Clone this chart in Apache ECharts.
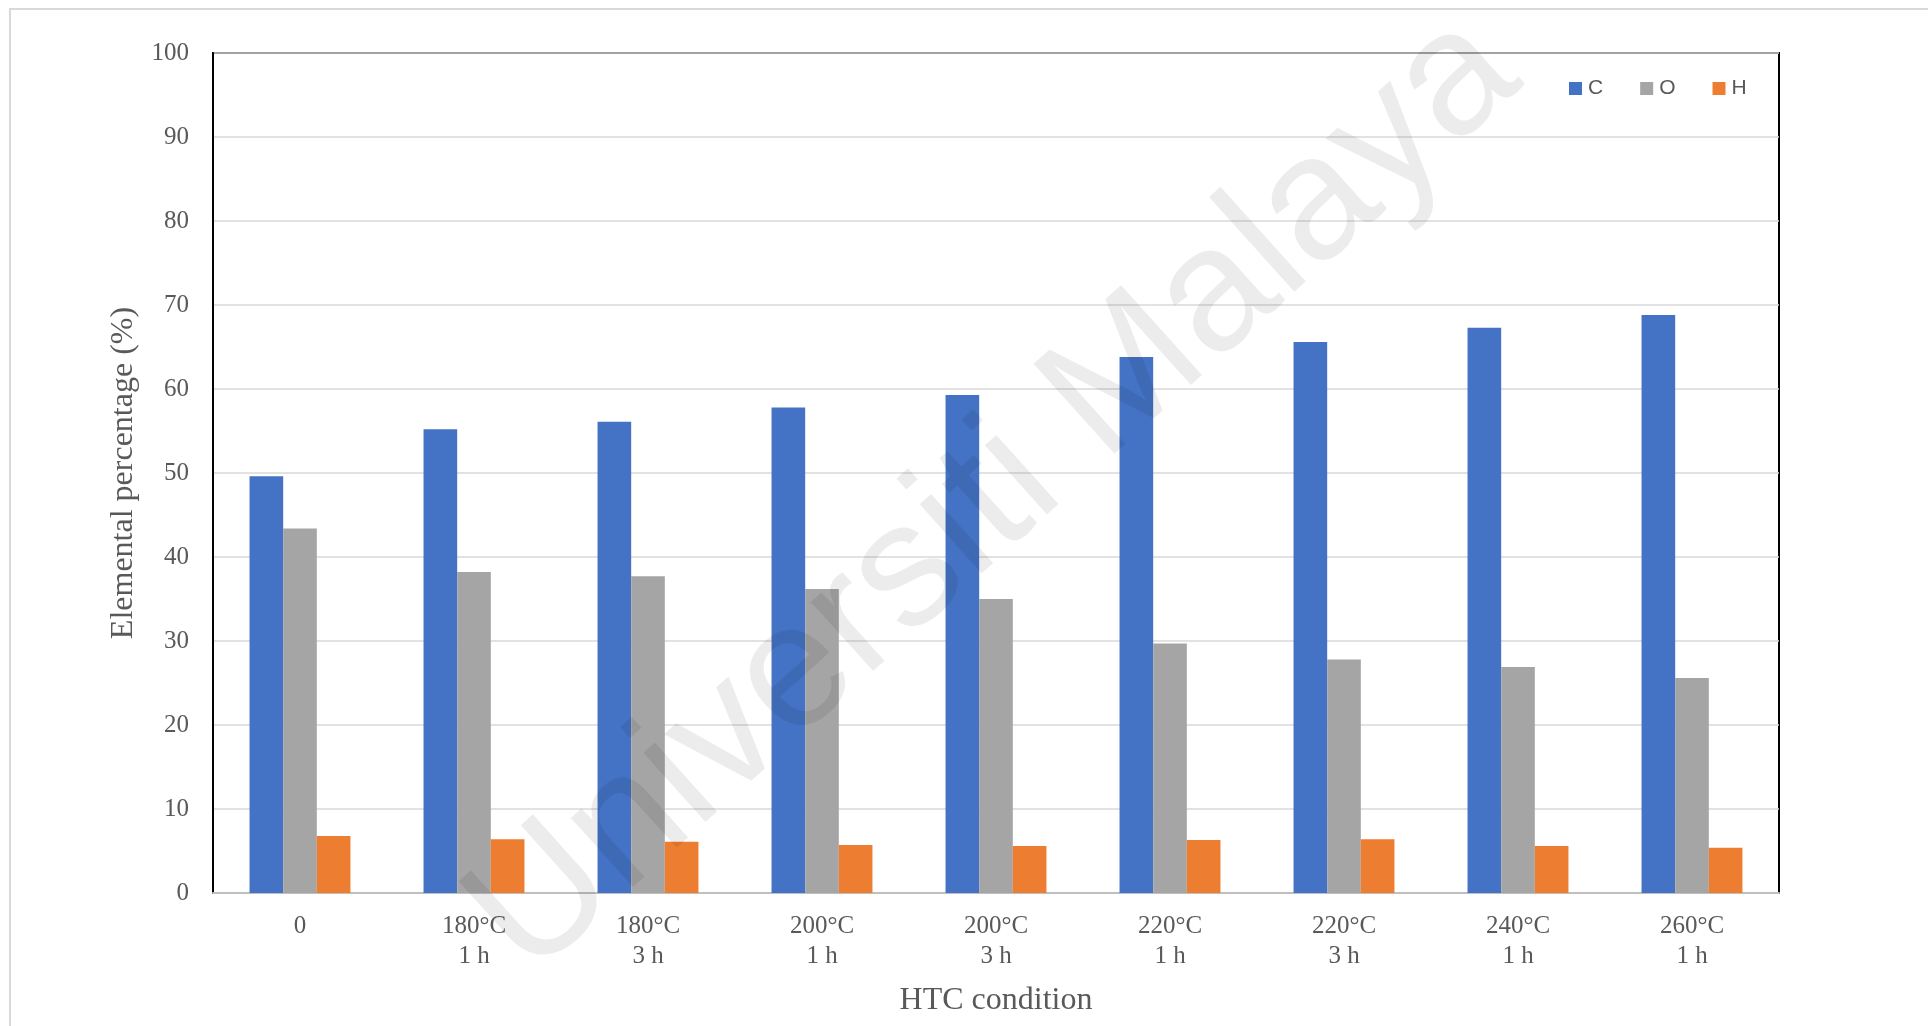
<!DOCTYPE html>
<html>
<head>
<meta charset="utf-8">
<title>Elemental percentage by HTC condition</title>
<script src="https://cdn.jsdelivr.net/npm/echarts@6/dist/echarts.min.js"></script>
<style>
  html, body { margin: 0; padding: 0; background: #ffffff; }
  #chart { width: 1928px; height: 1026px; }
</style>
</head>
<body>
<div id="chart"></div>
<script>
// HTC conditions (x axis categories)
const categories = ['0', '180°C\n1 h', '180°C\n3 h', '200°C\n1 h', '200°C\n3 h',
                    '220°C\n1 h', '220°C\n3 h', '240°C\n1 h', '260°C\n1 h'];

// Elemental composition (%)
const carbon   = [49.6, 55.2, 56.1, 57.8, 59.3, 63.8, 65.6, 67.3, 68.8];
const oxygen   = [43.4, 38.2, 37.7, 36.2, 35.0, 29.7, 27.8, 26.9, 25.6];
const hydrogen = [6.8, 6.4, 6.1, 5.7, 5.6, 6.3, 6.4, 5.6, 5.4];

const seriesNames = ['C', 'O', 'H'];
const seriesColors = ['#4472C4', '#A5A5A5', '#ED7D31'];

const serif = '"Liberation Serif", "Times New Roman", serif';
const textGray = '#595959';

const chart = echarts.init(document.getElementById('chart'), null, { renderer: 'canvas' });

chart.setOption({
  backgroundColor: '#ffffff',
  animation: false,
  graphic: [
    {
      // outer chart-area frame
      type: 'rect',
      shape: { x: 10, y: 9, width: 1930, height: 1030 },
      style: { fill: 'none', stroke: '#d9d9d9', lineWidth: 2 },
      z: 0
    },
    {
      // watermark
      type: 'text',
      x: 995,
      y: 496,
      rotation: 42 * Math.PI / 180,
      z: 100,
      silent: true,
      style: {
        text: 'Universiti Malaya',
        font: '176px "Liberation Sans", Arial, sans-serif',
        fill: 'rgba(0,0,0,0.075)',
        align: 'center',
        verticalAlign: 'middle'
      }
    }
  ],
  legend: {
    data: seriesNames,
    left: 1569,
    top: 78,
    icon: 'rect',
    itemWidth: 13,
    itemHeight: 13,
    itemGap: 37,
    textStyle: {
      fontFamily: '"Liberation Sans", Arial, sans-serif',
      fontSize: 21,
      color: textGray,
      padding: [0, 0, 0, 1]
    },
    padding: 0
  },
  grid: {
    left: 213,
    right: 149,
    top: 53,
    bottom: 133,
    show: true,
    borderColor: '#000000',
    borderWidth: 2,
    backgroundColor: 'transparent'
  },
  xAxis: {
    type: 'category',
    data: categories,
    name: 'HTC condition',
    nameLocation: 'middle',
    nameGap: 92,
    nameTextStyle: { fontFamily: serif, fontSize: 32, color: textGray },
    axisLine: { show: true, lineStyle: { color: '#BFBFBF', width: 2 } },
    axisTick: { show: false },
    axisLabel: {
      fontFamily: serif,
      fontSize: 25,
      color: textGray,
      lineHeight: 30,
      margin: 18,
      interval: 0
    },
    splitLine: { show: false }
  },
  yAxis: {
    type: 'value',
    min: 0,
    max: 100,
    interval: 10,
    name: 'Elemental percentage (%)',
    nameLocation: 'middle',
    nameGap: 73,
    nameRotate: 90,
    nameTextStyle: { fontFamily: serif, fontSize: 32, color: textGray },
    axisLine: { show: true, lineStyle: { color: '#000000', width: 2 } },
    axisTick: { show: false },
    axisLabel: {
      fontFamily: serif,
      fontSize: 25,
      color: textGray,
      margin: 24
    },
    splitLine: { show: true, lineStyle: { color: '#D9D9D9', width: 1.5 } }
  },
  series: [
    { name: seriesNames[0], type: 'bar', data: carbon,   itemStyle: { color: seriesColors[0] }, barGap: '0%', barCategoryGap: '42%' },
    { name: seriesNames[1], type: 'bar', data: oxygen,   itemStyle: { color: seriesColors[1] }, barGap: '0%', barCategoryGap: '42%' },
    { name: seriesNames[2], type: 'bar', data: hydrogen, itemStyle: { color: seriesColors[2] }, barGap: '0%', barCategoryGap: '42%' }
  ]
});
</script>
</body>
</html>
